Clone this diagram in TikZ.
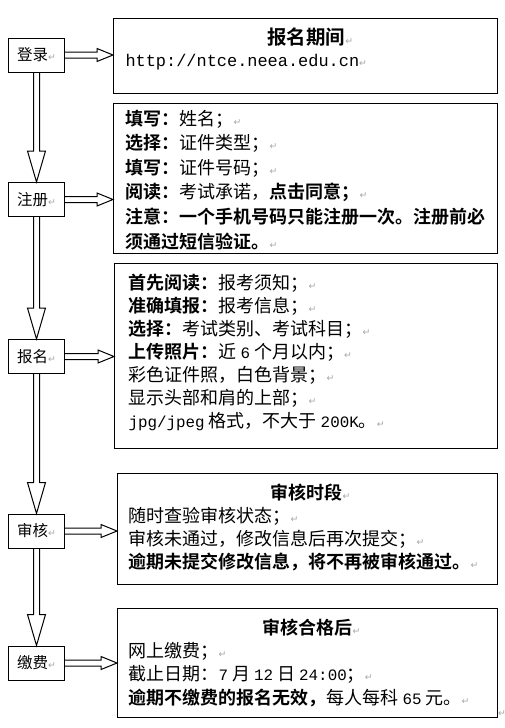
\documentclass[tikz,border=0pt]{standalone}
\usepackage{fontspec}
\setmainfont{Noto Sans CJK SC}[BoldFont={Noto Sans CJK SC Bold}]
\newfontfamily\monofont{Liberation Mono}
\newfontfamily\symfont{DejaVu Sans}
\usetikzlibrary{calc}

% paragraph mark and latin runs
\newcommand{\pmk}{{\symfont\fontsize{7}{7}\selectfont\color{gray!70}↵}}
\newcommand{\lat}[1]{{\monofont\fontsize{11.9}{17}\selectfont #1}}

\tikzset{
  leftbox/.style={draw, inner sep=0pt, minimum width=42pt, minimum height=25.5pt,
    font=\fontsize{11.6}{14}\selectfont},
  infobox/.style={draw, anchor=north west, inner sep=0pt},
  infotext/.style={anchor=base west, inner sep=0pt, align=left},
  blockarrow/.style={draw=black, line join=miter}
}

% hollow block arrows
\newcommand{\downblk}[2]{%
  \draw[blockarrow] ($(#1.south)+(-3,0)$) -- ($(#2.north)+(-3,-31)$) -- ($(#2.north)+(-9,-31)$)
    -- (#2.north) -- ($(#2.north)+(9,-31)$) -- ($(#2.north)+(3,-31)$) -- ($(#1.south)+(3,0)$);}
\newcommand{\rightblk}[2]{%
  \draw[blockarrow] ($(#1.east)+(0,-3)$) -- ($(#2.west |- #1.east)+(-16,-3)$) -- ($(#2.west |- #1.east)+(-16,-6.5)$)
    -- (#2.west |- #1.east) -- ($(#2.west |- #1.east)+(-16,6.5)$) -- ($(#2.west |- #1.east)+(-16,3)$) -- ($(#1.east)+(0,3)$);}

\begin{document}
\begin{tikzpicture}[x=0.75pt, y=-0.75pt, line width=0.75pt]
    \useasboundingbox (0,0) rectangle (505,728);
    % Steps on the left
    \node[leftbox] (login) at (36.5,55) {登录\pmk};
    \node[leftbox] (register) at (36.5,199.5) {注册\pmk};
    \node[leftbox] (apply) at (36.5,356.5) {报名\pmk};
    \node[leftbox] (review) at (36.5,531) {审核\pmk};
    \node[leftbox] (pay) at (36.5,663) {缴费\pmk};
    % Boxes on the right
    \node[infobox, minimum width=288pt, minimum height=56.25pt] (period) at (113,18) {};
    \node[infobox, minimum width=288pt, minimum height=112.5pt] (fill) at (113,103) {};
    \node[infobox, minimum width=287.25pt, minimum height=138.75pt] (form) at (114,263) {};
    \node[infobox, minimum width=285pt, minimum height=83.25pt] (check) at (117,473) {};
    \node[infobox, minimum width=285pt, minimum height=81.75pt] (fee) at (117,608) {};
    % Texts (anchored on the baseline of the last line)
    \node[infotext, font=\fontsize{14.6}{18}\selectfont] (periodtitle) at (267,44) {\textbf{报名期间}\pmk};
    \node[infotext, font=\monofont\fontsize{12.7}{17}\selectfont] (url) at (125,66) {http://ntce.neea.edu.cn\pmk};
    \node[infotext, font=\fontsize{13.5}{18.45}\selectfont] (filltext) at (125,248)
      {\textbf{填写：}姓名；\pmk\\
       \textbf{选择：}证件类型；\pmk\\
       \textbf{填写：}证件号码；\pmk\\
       \textbf{阅读：}考试承诺，\textbf{点击同意；}\pmk\\
       \textbf{注意：一个手机号码只能注册一次。注册前必}\\
       \textbf{须通过短信验证。}\pmk};
    \node[infotext, font=\fontsize{13.5}{17.25}\selectfont] (formtext) at (128,427)
      {\textbf{首先阅读：}报考须知；\pmk\\
       \textbf{准确填报：}报考信息；\pmk\\
       \textbf{选择：}考试类别、考试科目；\pmk\\
       \textbf{上传照片：}近 \lat{6} 个月以内；\pmk\\
       彩色证件照，白色背景；\pmk\\
       显示头部和肩的上部；\pmk\\
       \lat{jpg/jpeg} 格式，不大于 \lat{200K}。\pmk};
    \node[infotext, font=\fontsize{13.5}{18}\selectfont] (checktitle) at (270,499) {\textbf{审核时段}\pmk};
    \node[infotext, font=\fontsize{13.5}{17.25}\selectfont] (checktext) at (128,568)
      {随时查验审核状态；\pmk\\
       审核未通过，修改信息后再次提交；\pmk\\
       \textbf{逾期未提交修改信息，将不再被审核通过。}\pmk};
    \node[infotext, font=\fontsize{13.5}{18}\selectfont] (feetitle) at (262,634) {\textbf{审核合格后}\pmk};
    \node[infotext, font=\fontsize{13.5}{17.6}\selectfont] (feetext) at (128,704)
      {网上缴费；\pmk\\
       截止日期：\lat{7} 月 \lat{12} 日 \lat{24:00}；\pmk\\
       \textbf{逾期不缴费的报名无效，}每人每科 \lat{65} 元。\pmk};
    \node[inner sep=0pt] (endmark) at (502,714) {\pmk};
    % Arrows to the right
    \rightblk{login}{period}
    \rightblk{register}{fill}
    \rightblk{apply}{form}
    \rightblk{review}{check}
    \rightblk{pay}{fee}
    % Arrows down
    \downblk{login}{register}
    \downblk{register}{apply}
    \downblk{apply}{review}
    \downblk{review}{pay}
\end{tikzpicture}
\end{document}
